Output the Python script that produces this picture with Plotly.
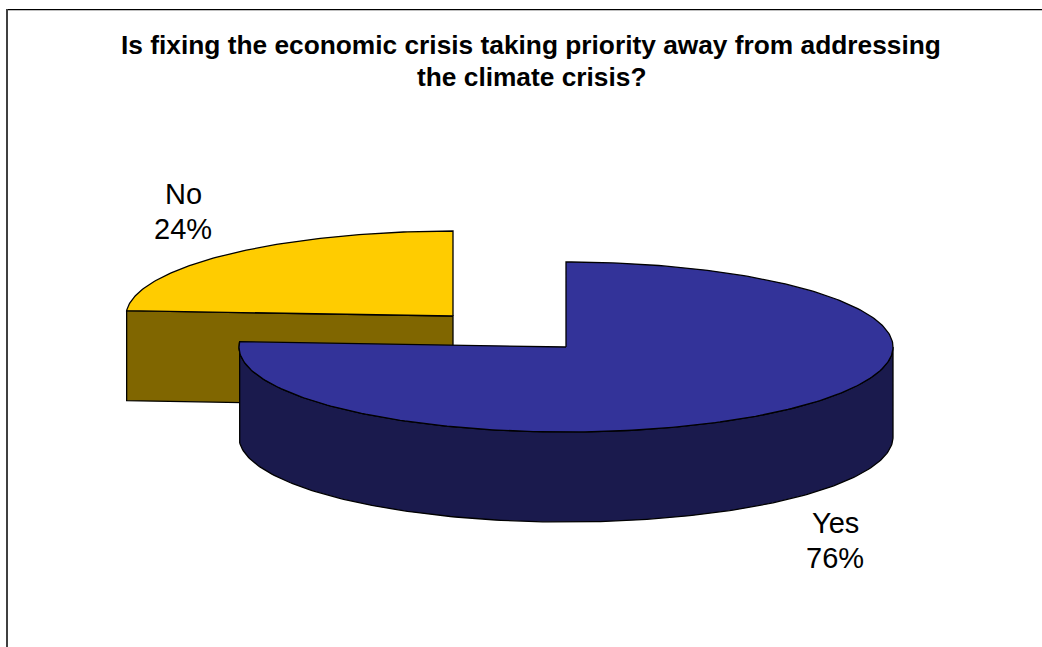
import numpy as np
import plotly.graph_objects as go

categories = ["Yes", "No"]
values = [76, 24]
title_lines = ["Is fixing the economic crisis taking priority away from addressing", "the climate crisis?"]

W, H = 1042, 647
RX, RY, DEPTH = 327, 85, 90
CY, CN = (566, 347), (453, 316)
TOP = {"Yes": "#333399", "No": "#FFCC00"}
SIDE = {"Yes": "#1A1A4D", "No": "#806600"}

frac = values[0] / sum(values)
split = 2 * np.pi * frac


def pt(c, a, dy=0):
    a = np.asarray(a)
    return c[0] + RX * np.sin(a), c[1] - RY * np.cos(a) + dy


def poly(x, y, fill):
    return go.Scatter(x=list(x), y=list(y), mode="lines", fill="toself", fillcolor=fill,
                      line=dict(color="#000000", width=1.3), hoverinfo="skip", showlegend=False)


fig = go.Figure()

# "No" slice: inner wall, then top
x0, y0 = pt(CN, split)
fig.add_trace(poly([x0, CN[0], CN[0], x0, x0],
                   [y0, CN[1], CN[1] + DEPTH, y0 + DEPTH, y0], SIDE["No"]))
a = np.linspace(split, 2 * np.pi, 120)
x, y = pt(CN, a)
fig.add_trace(poly(np.r_[CN[0], x, CN[0]], np.r_[CN[1], y, CN[1]], TOP["No"]))

# "Yes" slice: visible outer wall, then top
a = np.linspace(np.pi / 2, split, 200)
xt, yt = pt(CY, a)
xb, yb = pt(CY, a, DEPTH)
fig.add_trace(poly(np.r_[xt, xb[::-1], xt[0]], np.r_[yt, yb[::-1], yt[0]], SIDE["Yes"]))
a = np.linspace(0, split, 300)
x, y = pt(CY, a)
fig.add_trace(poly(np.r_[CY[0], x, CY[0]], np.r_[CY[1], y, CY[1]], TOP["Yes"]))

font = dict(family="Liberation Sans, Arial, sans-serif", color="#000000")
for line, ly in zip(title_lines, (45, 77)):
    fig.add_annotation(x=531, y=ly, xref="x", yref="y", text=f"<b>{line}</b>", showarrow=False,
                       font=dict(size=26.3, **font), align="center")
for name, val, lx, ly in [(categories[0], values[0], 835, 523), (categories[1], values[1], 183, 194)]:
    fig.add_annotation(x=lx, y=ly, xref="x", yref="y", text=name, showarrow=False,
                       font=dict(size=29, **font), align="center")
    fig.add_annotation(x=lx, y=ly + 35, xref="x", yref="y", text=f"{val}%", showarrow=False,
                       font=dict(size=29, **font), align="center")

# chart frame: only its top and left edges fall inside the picture
fig.add_shape(type="line", x0=6, y0=9.7, x1=W, y1=9.7, xref="x", yref="y",
              line=dict(color="#000000", width=1.3))
fig.add_shape(type="line", x0=7, y0=9, x1=7, y1=H, xref="x", yref="y",
              line=dict(color="#404040", width=2))

fig.update_layout(width=W, height=H, margin=dict(l=0, r=0, t=0, b=0), autosize=False,
                  paper_bgcolor="#FFFFFF", plot_bgcolor="#FFFFFF",
                  xaxis=dict(range=[0, W], visible=False, fixedrange=True),
                  yaxis=dict(range=[H, 0], visible=False, fixedrange=True))
fig.write_html("out.html", config={"displayModeBar": False},
               post_script="document.body.style.margin='0';document.body.style.overflow='hidden';")
